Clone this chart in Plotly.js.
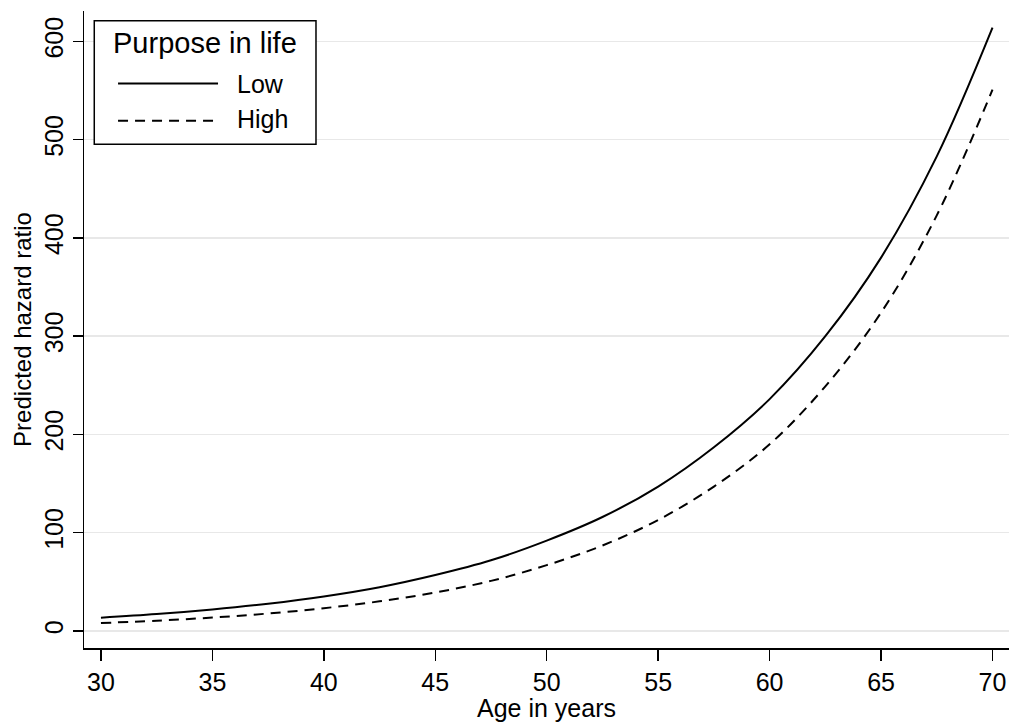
<!DOCTYPE html>
<html>
<head>
<meta charset="utf-8">
<script src="https://cdn.plot.ly/plotly-3.0.1.min.js"></script>
<style>html,body{margin:0;padding:0;background:#fff;}</style>
</head>
<body>
<div id="chart" style="width:1012px;height:722px;"></div>
<script>
const ages = [30, 32.5, 35, 37.5, 40, 42.5, 45, 47.5, 50, 52.5, 55, 57.5, 60, 62.5, 65, 67.5, 70];
const hrLow = [13.6, 17.2, 21.9, 27.8, 35.2, 44.6, 57, 72, 92, 116, 147, 187, 236, 300, 380, 483, 614];
const hrHigh = [8.1, 10.5, 13.7, 17.8, 23.2, 30.2, 39.2, 51, 67, 87, 113, 147, 190, 249, 324, 423, 551];
const xTicks = [30, 35, 40, 45, 50, 55, 60, 65, 70];
const yTicks = [0, 100, 200, 300, 400, 500, 600];
const seriesNames = ['Low', 'High'];
const legendTitle = 'Purpose in life';

const font = "Liberation Sans, Arial, Helvetica, sans-serif";
const dashStyle = '10px,7px';

const traces = [
  {x: ages, y: hrLow, type: 'scatter', mode: 'lines', name: seriesNames[0],
   line: {color: '#000', width: 2, shape: 'spline'}},
  {x: ages, y: hrHigh, type: 'scatter', mode: 'lines', name: seriesNames[1],
   line: {color: '#000', width: 2, dash: dashStyle, shape: 'spline'}}
];

// custom legend (box, title, samples, labels) in paper coordinates
const shapes = [
  {type: 'rect', xref: 'paper', yref: 'paper', x0: 0.0111, x1: 0.2508, y0: 0.7907, y1: 0.9848,
   line: {color: '#000', width: 1.5}, fillcolor: '#fff', layer: 'above'},
  {type: 'line', xref: 'paper', yref: 'paper', x0: 0.0368, x1: 0.1449, y0: 0.8862, y1: 0.8862,
   line: {color: '#000', width: 2}, layer: 'above'},
  {type: 'line', xref: 'paper', yref: 'paper', x0: 0.0368, x1: 0.1449, y0: 0.8278, y1: 0.8278,
   line: {color: '#000', width: 2, dash: dashStyle}, layer: 'above'}
];
const annotations = [
  {xref: 'paper', yref: 'paper', x: 0.1303, y: 0.9490, text: legendTitle, showarrow: false,
   xanchor: 'center', yanchor: 'middle', font: {family: font, size: 29, color: '#000'}},
  {xref: 'paper', yref: 'paper', x: 0.1632, y: 0.8861, text: seriesNames[0], showarrow: false,
   xanchor: 'left', yanchor: 'middle', font: {family: font, size: 25, color: '#000'}},
  {xref: 'paper', yref: 'paper', x: 0.1632, y: 0.8301, text: seriesNames[1], showarrow: false,
   xanchor: 'left', yanchor: 'middle', font: {family: font, size: 25, color: '#000'}}
];

const layout = {
  width: 1012, height: 722,
  margin: {l: 84, r: 3, t: 11, b: 74},
  paper_bgcolor: '#fff', plot_bgcolor: '#fff',
  font: {family: font, size: 25, color: '#000'},
  showlegend: false,
  shapes: shapes,
  annotations: annotations,
  xaxis: {
    range: [29.24, 70.74], tickvals: xTicks, ticktext: xTicks.map(String),
    showline: true, linecolor: '#000', linewidth: 1.5, mirror: false,
    ticks: 'outside', ticklen: 11, tickwidth: 1.5, tickcolor: '#000',
    showgrid: false, zeroline: false,
    tickfont: {family: font, size: 25, color: '#000'},
    title: {text: 'Age in years', font: {family: font, size: 25, color: '#000'}, standoff: 4}
  },
  yaxis: {
    range: [-17.3, 631], tickvals: yTicks, ticktext: yTicks.map(String),
    showline: true, linecolor: '#000', linewidth: 1.5, mirror: false,
    ticks: 'outside', ticklen: 10, tickwidth: 1.5, tickcolor: '#000',
    tickangle: -90,
    showgrid: true, gridcolor: '#e8e8e8', gridwidth: 1.5, zeroline: false,
    tickfont: {family: font, size: 25, color: '#000'},
    title: {text: 'Predicted hazard ratio', font: {family: font, size: 24, color: '#000'}, standoff: 1}
  }
};

Plotly.newPlot('chart', traces, layout, {displayModeBar: false, staticPlot: true});
</script>
</body>
</html>
